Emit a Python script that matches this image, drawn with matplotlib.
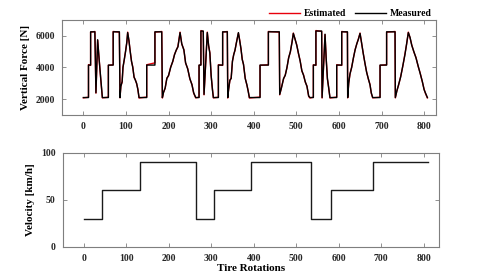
import numpy as np
import matplotlib.pyplot as plt

plt.rcParams['font.family'] = ['Liberation Serif', 'DejaVu Serif']
plt.rcParams['font.weight'] = 'bold'

# measured vertical force [N] vs tire rotations
force_x = [0, 12, 12, 17, 17, 27, 29.5, 33.5, 37, 41, 44.6,
           58.7, 58.7, 70, 70, 84.5, 86, 88, 91, 93, 96, 99, 102, 104, 107, 110, 113, 116, 119, 122, 125, 128, 130.7,
           148.7, 148.7, 168, 168, 184, 185.5, 188, 192, 196, 200, 205, 210, 214, 218, 222, 227, 231, 236, 240, 245, 250, 255, 259, 263.8,
           271.6, 271.6, 276, 276, 281.5, 283.3, 291, 294, 297, 300, 303, 305.2,
           317, 317, 327, 327, 338, 339, 341, 344, 347, 350, 353, 356, 359, 364, 367, 370, 373, 376, 380, 384, 387, 389.8,
           414.8, 414.8, 434.4, 434.4, 460, 461, 465, 470, 474, 478, 482, 486, 490, 493, 497, 501, 505, 509, 513, 517, 521, 525, 529, 532,
           540, 540, 546, 546, 559.5, 560.5, 567.4, 570, 573, 576, 579,
           594.8, 594.8, 606.6, 606.6, 620, 620.6, 623, 626, 630, 634, 638, 642, 646, 649.6, 653, 657, 661, 665, 669, 673, 676, 679.3,
           696.6, 696.6, 712, 712, 731.8, 732.5, 736, 740, 745, 750, 755, 759, 763, 767, 771, 776, 781, 786, 791, 796, 800, 803, 807.7]
force_meas = [2100, 2100, 4150, 4150, 6250, 6250, 2400, 5750, 4500, 3200, 2100,
              2100, 4150, 4150, 6250, 6250, 2100, 2800, 3100, 4000, 4500, 5000, 5600, 6200, 5700, 5000, 4400, 4000, 3400, 3200, 3000, 2600, 2100,
              2100, 4150, 4150, 6250, 6250, 2100, 2400, 2700, 3300, 3500, 4000, 4400, 4800, 5100, 5300, 6200, 5500, 5100, 4300, 3900, 3300, 2900, 2400, 2100,
              2100, 4150, 4150, 6300, 6300, 2300, 6200, 5400, 4900, 3500, 2600, 2100,
              2100, 4150, 4150, 6250, 6250, 2100, 2600, 3200, 3300, 4400, 4800, 5100, 5500, 6200, 5700, 5200, 4500, 4200, 3300, 2900, 2500, 2100,
              2100, 4150, 4150, 6250, 6250, 2300, 2700, 3300, 3500, 4000, 4600, 5000, 5600, 6150, 5800, 5400, 4900, 4400, 3800, 3500, 3100, 2800, 2200, 2100,
              2100, 4150, 4150, 6300, 6300, 2100, 6100, 4600, 3300, 2700, 2100,
              2100, 4150, 4150, 6250, 6250, 2100, 3000, 3600, 4000, 4600, 5100, 5500, 5800, 6150, 5600, 4900, 4300, 3700, 3300, 2900, 2400, 2100,
              2100, 4150, 4150, 6250, 6250, 2100, 2500, 2900, 3400, 4100, 4800, 5500, 6200, 5900, 5400, 5000, 4600, 4100, 3600, 3100, 2600, 2400, 2100]
# estimated force, read off the red trace where it departs from the measured one
force_est = [2080, 2120, 4180, 4130, 6230, 6270, 2380, 5720, 4530, 3180, 2080,
             2120, 4130, 4170, 6270, 6230, 2080, 2830, 3070, 4030, 4470, 5040, 5570, 6230, 5680, 5030, 4370, 4040, 3370, 3230, 2970, 2630, 2070,
             2130, 4170, 4290, 6230, 6270, 2070, 2430, 2680, 3330, 3470, 4040, 4370, 4830, 5070, 5330, 6230, 5470, 5130, 4270, 3930, 3270, 2930, 2370, 2080,
             2120, 4130, 4170, 6330, 6270, 2270, 6230, 5370, 4930, 3470, 2630, 2080,
             2120, 4170, 4130, 6230, 6270, 2070, 2630, 3170, 3330, 4370, 4830, 5070, 5530, 6170, 5730, 5170, 4530, 4170, 3330, 2870, 2530, 2070,
             2130, 4130, 4170, 6270, 6230, 2270, 2730, 3270, 3530, 3970, 4630, 4970, 5630, 6170, 5770, 5430, 4870, 4430, 3770, 3530, 3070, 2830, 2170, 2070,
             2120, 4170, 4130, 6330, 6270, 2070, 6070, 4630, 3270, 2730, 2070,
             2130, 4170, 4130, 6270, 6230, 2080, 3030, 3570, 4030, 4570, 5130, 5470, 5830, 6170, 5570, 4930, 4270, 3730, 3270, 2930, 2370, 2080,
             2120, 4130, 4170, 6230, 6270, 2080, 2530, 2870, 3430, 4070, 4830, 5470, 6230, 5870, 5430, 4970, 4630, 4070, 3630, 3070, 2630, 2370, 2080]

# velocity [km/h]
vel_x = [0, 43, 43, 133, 133, 265, 265, 306, 306, 393, 393, 534, 534, 583, 583, 680, 680, 810]
vel_y = [30, 30, 60, 60, 90, 90, 30, 30, 60, 60, 90, 90, 30, 30, 60, 60, 90, 90]

x_ticks = np.arange(0, 900, 100)
gray = '#7f7f7f'

fig = plt.figure(figsize=(4.85, 2.77), dpi=100)
ax1 = fig.add_axes([0.128, 0.585, 0.771, 0.343])
ax2 = fig.add_axes([0.129, 0.109, 0.776, 0.340])

ax1.plot(force_x, force_est, color='#e8000b', linewidth=1.0, label='Estimated')
ax1.plot(force_x, force_meas, color='black', linewidth=1.0, label='Measured')
ax1.set_xlim(-50, 828)
ax1.set_ylim(1000, 7000)
ax1.set_yticks([2000, 4000, 6000])
ax1.set_ylabel('Vertical Force [N]', fontsize=8, fontweight='bold')
ax1.legend(loc='lower right', bbox_to_anchor=(1.0, 0.98), ncol=2, frameon=False,
           fontsize=7, handlelength=3.2, columnspacing=0.9, borderaxespad=0, handletextpad=0.4)

ax2.plot(vel_x, vel_y, color='#1a1a1a', linewidth=1.0)
ax2.set_xlim(-50, 836)
ax2.set_ylim(0, 100)
ax2.set_yticks([0, 50, 100])
ax2.set_ylabel('Velocity [km/h]', fontsize=8, fontweight='bold')
ax2.set_xlabel('Tire Rotations', fontsize=8, fontweight='bold', labelpad=1)

for ax in (ax1, ax2):
    ax.set_xticks(x_ticks)
    ax.tick_params(direction='in', top=True, right=True, length=3, width=0.6,
                   colors=gray, labelcolor='#262626', labelsize=7, pad=5)
    for s in ax.spines.values():
        s.set_color(gray)
        s.set_linewidth(0.8)

fig.savefig('out.png', dpi=100)
